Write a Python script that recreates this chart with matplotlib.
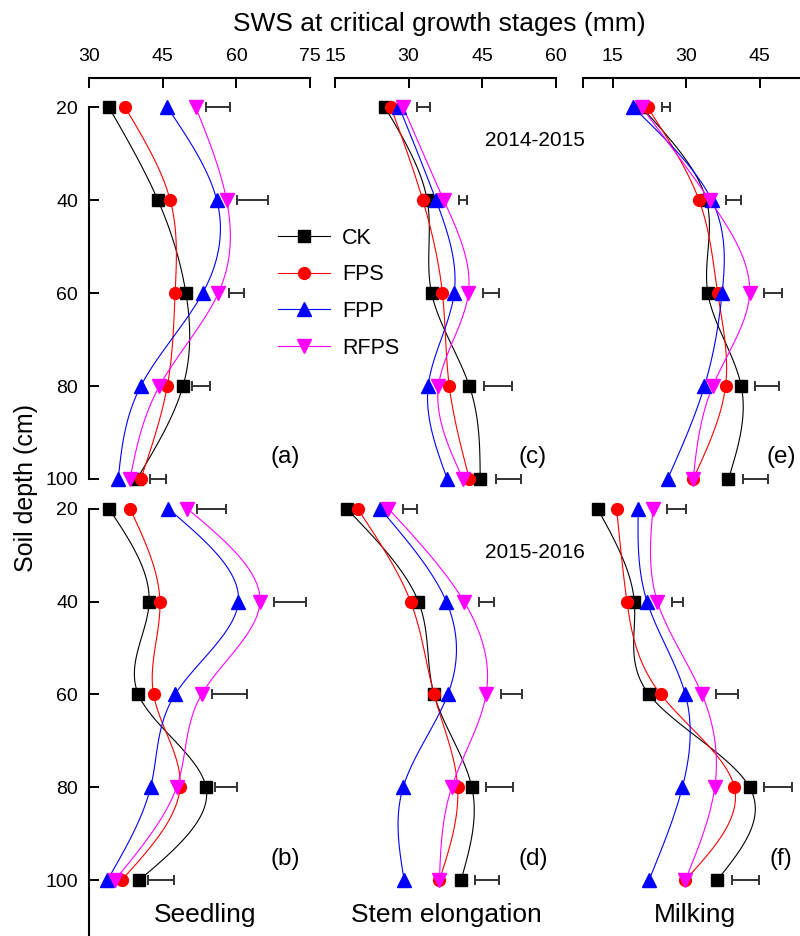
import numpy as np
import matplotlib
matplotlib.use('Agg')
import matplotlib.pyplot as plt

plt.rcParams['font.family'] = ['Liberation Sans', 'DejaVu Sans']

depth = [20, 40, 60, 80, 100]
series = ['CK', 'FPS', 'FPP', 'RFPS']

# (a) seedling 2014-2015
a_ck = [34.0, 44.0, 49.7, 49.1, 39.7]
a_fps = [37.3, 46.5, 47.5, 45.9, 40.5]
a_fpp = [45.9, 56.0, 53.1, 40.5, 35.9]
a_rfps = [51.7, 58.0, 56.3, 44.3, 38.3]
a_bar_lo = [53.8, 60.1, 58.4, 50.9, 42.4]
a_bar_hi = [58.7, 66.4, 61.6, 54.6, 45.7]

# (b) seedling 2015-2016
b_ck = [34.0, 42.2, 40.0, 53.8, 40.2]
b_fps = [38.3, 44.4, 43.1, 48.5, 36.6]
b_fpp = [46.1, 60.4, 47.5, 42.5, 33.7]
b_rfps = [50.0, 64.8, 52.9, 47.8, 35.2]
b_bar_lo = [52.0, 67.7, 55.0, 55.7, 42.0]
b_bar_hi = [57.8, 74.2, 62.1, 60.2, 47.3]

# (c) stem elongation 2014-2015
c_ck = [25.2, 33.8, 34.7, 42.4, 44.6]
c_fps = [26.4, 32.9, 36.9, 38.3, 42.4]
c_fpp = [28.1, 35.6, 39.3, 34.0, 37.9]
c_rfps = [28.9, 37.2, 42.2, 36.1, 41.1]
c_bar_lo = [31.8, 40.2, 45.1, 45.3, 47.9]
c_bar_hi = [34.4, 42.0, 48.5, 51.1, 52.9]

# (d) stem elongation 2015-2016
d_ck = [17.4, 32.0, 35.2, 42.9, 40.7]
d_fps = [19.6, 30.4, 35.2, 40.0, 36.3]
d_fpp = [24.2, 37.7, 38.0, 28.9, 29.1]
d_rfps = [25.9, 41.3, 45.8, 38.8, 36.3]
d_bar_lo = [28.8, 44.4, 48.8, 45.8, 43.6]
d_bar_hi = [31.7, 47.5, 53.1, 51.3, 48.5]

# (e) milking 2014-2015
e_ck = [20.9, 34.1, 34.4, 41.2, 38.6]
e_fps = [22.1, 32.6, 36.4, 38.0, 31.4]
e_fpp = [19.2, 35.2, 37.3, 33.7, 26.2]
e_rfps = [20.9, 34.8, 42.9, 35.4, 31.4]
e_bar_lo = [25.0, 38.0, 45.9, 44.1, 41.6]
e_bar_hi = [26.7, 41.2, 49.6, 48.9, 46.6]

# (f) milking 2015-2016
f_ck = [11.9, 19.4, 22.4, 42.9, 36.3]
f_fps = [15.8, 17.9, 24.8, 39.8, 29.8]
f_fpp = [20.2, 22.0, 29.8, 29.2, 22.4]
f_rfps = [23.2, 24.1, 33.2, 35.8, 29.8]
f_bar_lo = [26.0, 27.1, 36.1, 45.8, 39.3]
f_bar_hi = [29.9, 29.4, 40.6, 51.6, 44.8]

col_xlim = [(30, 75), (15, 60), (9, 54)]
col_ticks = [[30, 45, 60, 75], [15, 30, 45, 60], [9, 15, 30, 45]]
col_ticklabels = [['30', '45', '60', '75'], ['15', '30', '45', '60'], ['', '15', '30', '45']]
stages = ['Seedling', 'Stem elongation', 'Milking']
years = ['2014-2015', '2015-2016']

colors = ['black', 'red', 'blue', 'magenta']
markers = ['s', 'o', '^', 'v']
msizes = [8, 8.5, 10, 10]

W, H = 800, 936


def fx(px):
    return px / W


def fy(py):
    return 1 - py / H


# natural cubic spline through the points (x as a function of depth)
def spline(y, x, n=120):
    y = np.asarray(y, float)
    x = np.asarray(x, float)
    k = len(y)
    h = np.diff(y)
    A = np.zeros((k, k))
    r = np.zeros(k)
    A[0, 0] = 1
    A[-1, -1] = 1
    for i in range(1, k - 1):
        A[i, i - 1] = h[i - 1]
        A[i, i] = 2 * (h[i - 1] + h[i])
        A[i, i + 1] = h[i]
        r[i] = 3 * ((x[i + 1] - x[i]) / h[i] - (x[i] - x[i - 1]) / h[i - 1])
    c = np.linalg.solve(A, r)
    yy = np.linspace(y[0], y[-1], n)
    idx = np.clip(np.searchsorted(y, yy) - 1, 0, k - 2)
    t = yy - y[idx]
    b = (x[idx + 1] - x[idx]) / h[idx] - h[idx] * (2 * c[idx] + c[idx + 1]) / 3
    d = (c[idx + 1] - c[idx]) / (3 * h[idx])
    xx = x[idx] + b * t + c[idx] * t ** 2 + d * t ** 3
    return xx, yy


panels = [
    [(a_ck, a_fps, a_fpp, a_rfps, a_bar_lo, a_bar_hi, '(a)'),
     (c_ck, c_fps, c_fpp, c_rfps, c_bar_lo, c_bar_hi, '(c)'),
     (e_ck, e_fps, e_fpp, e_rfps, e_bar_lo, e_bar_hi, '(e)')],
    [(b_ck, b_fps, b_fpp, b_rfps, b_bar_lo, b_bar_hi, '(b)'),
     (d_ck, d_fps, d_fpp, d_rfps, d_bar_lo, d_bar_hi, '(d)'),
     (f_ck, f_fps, f_fpp, f_rfps, f_bar_lo, f_bar_hi, '(f)')],
]

fig = plt.figure(figsize=(8, 9.36), dpi=100)

col_left = [89.3, 335.0, 583.3]
col_w = 220.7
# rows: (top px, bottom px, ylim bottom, ylim top, spine bottom)
rows = [(78, 479, 100, 13.69, 100), (479, 936, 112.05, 13.6, 112.05)]
label_x = [285, 533, 781]
label_y = [457, 859]

handles = []
for r, (top_px, bot_px, ybot, ytop, sp_bot) in enumerate(rows):
    for c in range(3):
        ax = fig.add_axes([fx(col_left[c]), fy(bot_px), col_w / W, (bot_px - top_px) / H])
        ax.set_facecolor('none')
        ax.set_xlim(*col_xlim[c])
        ax.set_ylim(ybot, ytop)
        ck, fps, fpp, rfps, lo, hi, tag = panels[r][c]
        for i, vals in enumerate([ck, fps, fpp, rfps]):
            xx, yy = spline(depth, vals)
            ax.plot(xx, yy, color=colors[i], lw=0.8, clip_on=False, zorder=2)
        for i, vals in enumerate([ck, fps, fpp, rfps]):
            ax.plot(vals, depth, ls='none', marker=markers[i], ms=msizes[i],
                    color=colors[i], mec=colors[i], clip_on=False, zorder=3)
            if r == 0 and c == 0:
                ln = plt.Line2D([], [], color=colors[i], lw=0.8, marker=markers[i],
                                ms=msizes[i], mec=colors[i])
                handles.append(ln)
        lo = np.array(lo)
        hi = np.array(hi)
        ax.errorbar((lo + hi) / 2, depth, xerr=(hi - lo) / 2, fmt='none',
                    ecolor='#333333', elinewidth=1.4, capsize=3.4, capthick=1.4,
                    clip_on=False, zorder=3)

        for s in ['right', 'bottom']:
            ax.spines[s].set_visible(False)
        ax.spines['left'].set_visible(c == 0)
        ax.spines['top'].set_visible(r == 0)
        ax.spines['left'].set_linewidth(1.5)
        ax.spines['top'].set_linewidth(1.5)
        ax.spines['left'].set_bounds(20, sp_bot)

        if c == 0:
            ax.set_yticks(depth)
            ax.tick_params(axis='y', direction='in', length=7, width=1.4,
                           labelsize=14, pad=8)
        else:
            ax.set_yticks([])
        if r == 0:
            ax.xaxis.set_ticks_position('top')
            ax.set_xticks(col_ticks[c])
            ax.set_xticklabels(col_ticklabels[c])
            ax.tick_params(axis='x', direction='in', length=7, width=1.4,
                           labelsize=14, pad=9, top=True, labeltop=True,
                           bottom=False, labelbottom=False)
        else:
            ax.set_xticks([])

        fig.text(fx(label_x[c]), fy(label_y[r]), tag, fontsize=17.5,
                 ha='center', va='center')

fig.legend(handles, series, loc='upper left', bbox_to_anchor=(fx(278), fy(228)),
           frameon=False, fontsize=15.5, handlelength=2.42, handletextpad=0.55,
           labelspacing=0.72, borderpad=0, borderaxespad=0, numpoints=1)

fig.text(fx(485), fy(140), years[0], fontsize=15, ha='left', va='center')
fig.text(fx(485), fy(553), years[1], fontsize=15, ha='left', va='center')

stage_x = [205, 446, 695]
for s, x in zip(stages, stage_x):
    fig.text(fx(x), fy(915), s, fontsize=19, ha='center', va='center')

fig.text(fx(439), fy(24), 'SWS at critical growth stages (mm)', fontsize=19,
         ha='center', va='center')
fig.text(fx(26), fy(488), 'Soil depth (cm)', fontsize=18, rotation=90,
         ha='center', va='center')

fig.savefig('out.png', dpi=100)
